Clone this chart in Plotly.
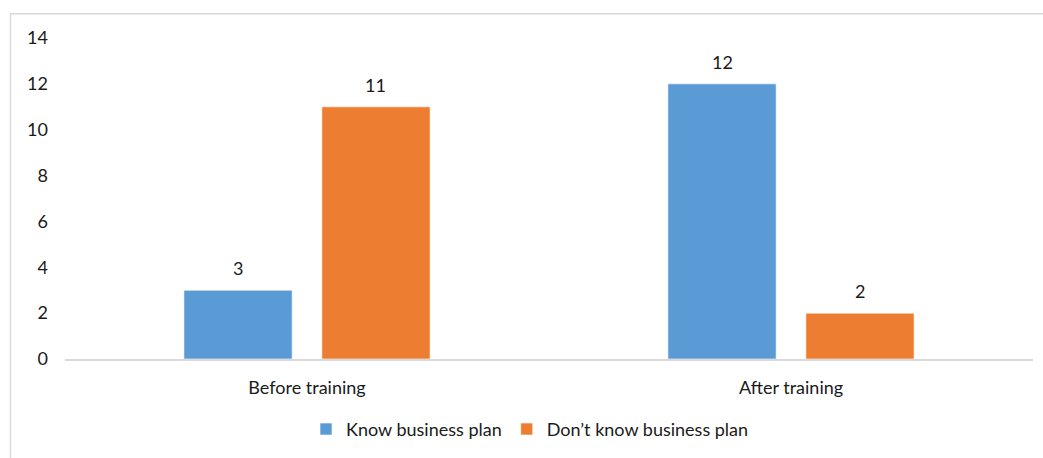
import plotly.graph_objects as go

categories = ["Before training", "After training"]
know = [3, 12]
dont_know = [11, 2]
series_names = ["Know business plan", "Don\u2019t know business plan"]
colors = ["#5B9BD5", "#ED7D31"]
y_ticks = [0, 2, 4, 6, 8, 10, 12, 14]

FONT = "Lato, 'Open Sans', sans-serif"
TXT = "#1a1a1a"
FS = 18

fig = go.Figure()
for name, vals, col in zip(series_names, [know, dont_know], colors):
    fig.add_trace(go.Bar(
        x=categories, y=vals, name=name,
        marker=dict(color=col, line=dict(color="rgba(255,255,255,0.6)", width=1)),
    ))

# data labels placed above each bar
slot_px = 137.5
for si, vals in enumerate([know, dont_know]):
    shift = (si - 0.5) * slot_px
    for c, v in zip(categories, vals):
        fig.add_annotation(x=c, y=v, text=str(v), showarrow=False,
                           xshift=shift, yshift=9, yanchor="bottom",
                           font=dict(family=FONT, size=FS, color=TXT))

L, R, T, B = 65, 10, 38, 96
W, H = 1043, 458
pw, ph = W - L - R, H - T - B
fig.add_shape(type="rect", xref="paper", yref="paper",
              x0=(10.5 - L) / pw, x1=(W + 5 - L) / pw,
              y0=(H - B - 475) / ph, y1=(H - B - 13.5) / ph,
              line=dict(color="#D9D9D9", width=1.5), fillcolor="rgba(0,0,0,0)",
              layer="below")

fig.update_layout(
    width=W, height=H,
    margin=dict(l=L, r=R, t=T, b=B),
    paper_bgcolor="white", plot_bgcolor="white",
    barmode="group", bargap=0.43, bargroupgap=0.215,
    font=dict(family=FONT, size=FS, color=TXT),
    showlegend=True,
    legend=dict(orientation="h", x=(306 - L) / pw, xanchor="left", y=(H - B - 433) / ph, yanchor="middle",
                font=dict(family=FONT, size=FS, color=TXT), itemwidth=30,
                traceorder="normal"),
)
fig.update_xaxes(showline=True, linecolor="#D9D9D9", linewidth=1.5, showgrid=False,
                 ticks="", tickfont=dict(size=FS, color=TXT), ticklabelstandoff=12)
fig.update_yaxes(range=[0, 14], tickvals=y_ticks, showgrid=False, zeroline=False,
                 showline=False, ticks="", tickfont=dict(size=FS, color=TXT),
                 ticklabelstandoff=16)

fig.write_html("out.html")
